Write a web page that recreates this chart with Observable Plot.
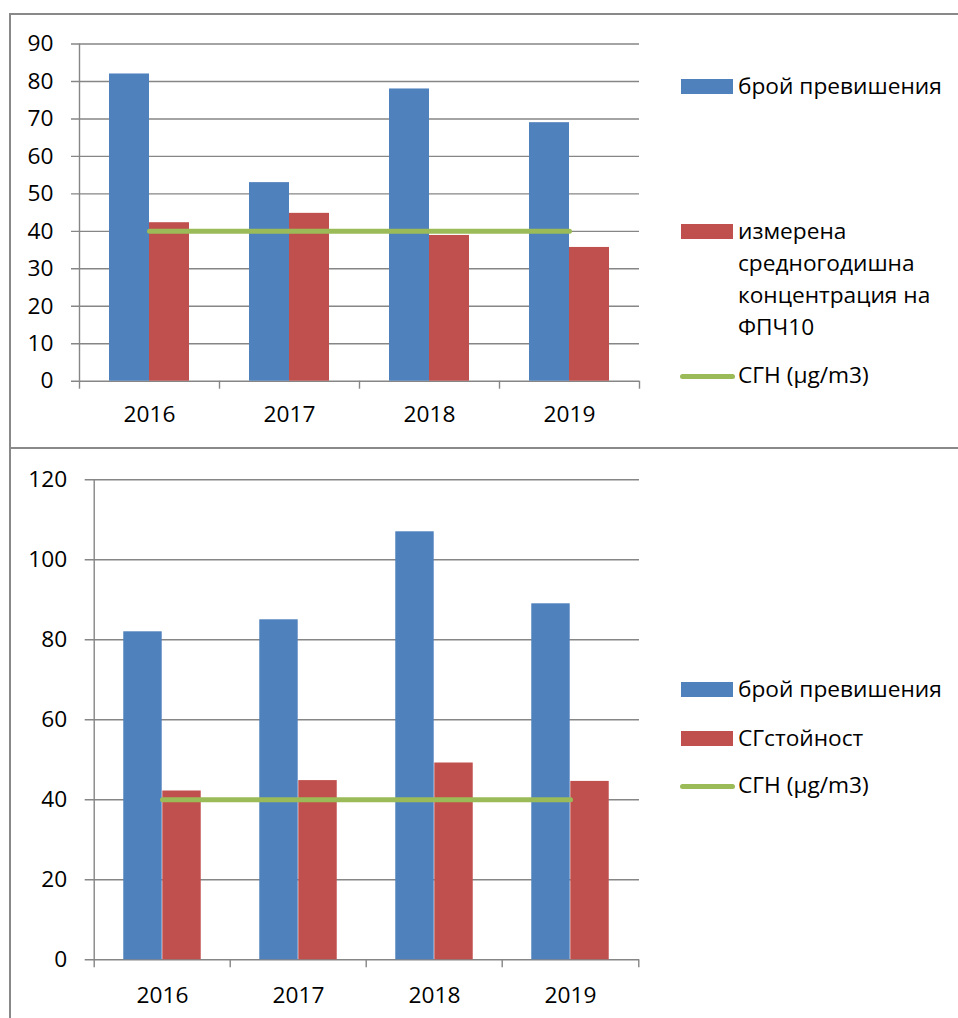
<!DOCTYPE html>
<html>
<head>
<meta charset="utf-8">
<script src="https://cdn.jsdelivr.net/npm/d3@7"></script>
<script src="https://cdn.jsdelivr.net/npm/@observablehq/plot@0.6"></script>
<style>
  html, body { margin: 0; padding: 0; background: #fff; }
  #page { position: relative; width: 958px; height: 1018px; overflow: hidden; background: #fff;
          font-family: "Open Sans", sans-serif; color: #000; }
  .frame { position: absolute; border: 2px solid #898989; box-sizing: border-box; }
  .chart { position: absolute; left: 0; }
  .sw { position: absolute; left: 681px; width: 52px; height: 15px; }
  .ln { position: absolute; left: 680px; width: 55px; height: 5px; border-radius: 3px; background: #9BBB59; }
  .lt { position: absolute; left: 738px; font-size: 22.7px; line-height: 32px; white-space: nowrap; }
</style>
</head>
<body>
<div id="page">
  <div class="frame" style="left:9px; top:13px; width:960px; height:436px;"></div>
  <div class="frame" style="left:9px; top:447px; width:960px; height:620px;"></div>
  <div id="c1" class="chart" style="top:0px;"></div>
  <div id="c2" class="chart" style="top:448px;"></div>
  <div id="legend1"></div>
  <div id="legend2"></div>
</div>
<script>
// ---- data ----
const years = ["2016", "2017", "2018", "2019"];
// chart 1
const exceed1 = [82, 53, 78, 69];
const pm10Mean1 = [42.3, 44.8, 38.9, 35.7];
const yTicks1 = [0, 10, 20, 30, 40, 50, 60, 70, 80, 90];
// chart 2
const exceed2 = [82, 85, 107, 89];
const meanValue2 = [42.2, 44.8, 49.2, 44.6];
const yTicks2 = [0, 20, 40, 60, 80, 100, 120];
// limit value
const limitValue = 40;
// legend labels
const legend1Labels = ["брой превишения", "измерена средногодишна концентрация на ФПЧ10", "СГН (µg/m3)"];
const legend2Labels = ["брой превишения", "СГстойност", "СГН (µg/m3)"];

const BLUE = "#4F81BD", RED = "#C0504D", GREEN = "#9BBB59", GRID = "#868686";

function makeChart({width, height, ml, mr, mt, mb, yTicks, blue, red, labelDy}) {
  const rows = years.map((y, i) => ({year: y, blue: blue[i], red: red[i], limit: limitValue}));
  const bw = (width - ml - mr) / years.length;
  const yMax = yTicks[yTicks.length - 1];
  return Plot.plot({
    width, height,
    marginLeft: ml, marginRight: mr, marginTop: mt, marginBottom: mb,
    style: {fontFamily: "'Open Sans', sans-serif", fontSize: "22.7px", color: "#000", background: "transparent", overflow: "visible"},
    x: {domain: years, padding: 0, axis: null},
    y: {domain: [0, yMax], axis: null},
    marks: [
      Plot.ruleY(yTicks, {stroke: GRID, strokeWidth: 1.4, insetLeft: -8}),
      Plot.ruleX([years[0]], {x: d => d, dx: -bw / 2, y1: 0, y2: yMax, stroke: GRID, strokeWidth: 1.4}),
      Plot.ruleX(years, {x: d => d, dx: -bw / 2, y1: 0, y2: 0, insetBottom: -8, stroke: GRID, strokeWidth: 1.4}),
      Plot.ruleX([years[years.length - 1]], {x: d => d, dx: bw / 2, y1: 0, y2: 0, insetBottom: -8, stroke: GRID, strokeWidth: 1.4}),
      Plot.barY(rows, {x: "year", y: "blue", fill: BLUE, insetLeft: bw * 0.2143, insetRight: bw * 0.5}),
      Plot.barY(rows, {x: "year", y: "red", fill: RED, insetLeft: bw * 0.5, insetRight: bw * 0.2143}),
      Plot.lineY(rows, {x: "year", y: "limit", stroke: GREEN, strokeWidth: 5, strokeLinecap: "round"}),
      Plot.text(yTicks, {y: d => d, frameAnchor: "left", textAnchor: "end", dx: -26, fill: "#000"}),
      Plot.text(years, {x: d => d, y: 0, dy: labelDy, fill: "#000"})
    ]
  });
}

document.getElementById("c1").append(makeChart({
  width: 660, height: 448, ml: 79, mr: 21, mt: 43.5, mb: 67.3,
  yTicks: yTicks1, blue: exceed1, red: pm10Mean1, labelDy: 34
}));
document.getElementById("c2").append(makeChart({
  width: 660, height: 570, ml: 92.7, mr: 21, mt: 31.3, mb: 58.7,
  yTicks: yTicks2, blue: exceed2, red: meanValue2, labelDy: 36
}));

// legends
function legend(containerId, items) {
  const c = document.getElementById(containerId);
  for (const it of items) {
    if (it.type === "rect") {
      const s = document.createElement("div");
      s.className = "sw"; s.style.top = it.sy + "px"; s.style.background = it.color;
      c.append(s);
    } else {
      const s = document.createElement("div");
      s.className = "ln"; s.style.top = (it.sy - 2.5) + "px";
      c.append(s);
    }
    const t = document.createElement("div");
    t.className = "lt"; t.style.top = it.ty + "px";
    t.innerHTML = it.lines.join("<br>");
    c.append(t);
  }
}
legend("legend1", [
  {type: "rect", color: BLUE, sy: 79, ty: 70, lines: [legend1Labels[0]]},
  {type: "rect", color: RED, sy: 224, ty: 215, lines: ["измерена", "средногодишна", "концентрация на", "ФПЧ10"]},
  {type: "line", sy: 376, ty: 359, lines: [legend1Labels[2]]}
]);
legend("legend2", [
  {type: "rect", color: BLUE, sy: 682, ty: 673, lines: [legend2Labels[0]]},
  {type: "rect", color: RED, sy: 731, ty: 722, lines: [legend2Labels[1]]},
  {type: "line", sy: 786, ty: 769, lines: [legend2Labels[2]]}
]);
</script>
</body>
</html>
